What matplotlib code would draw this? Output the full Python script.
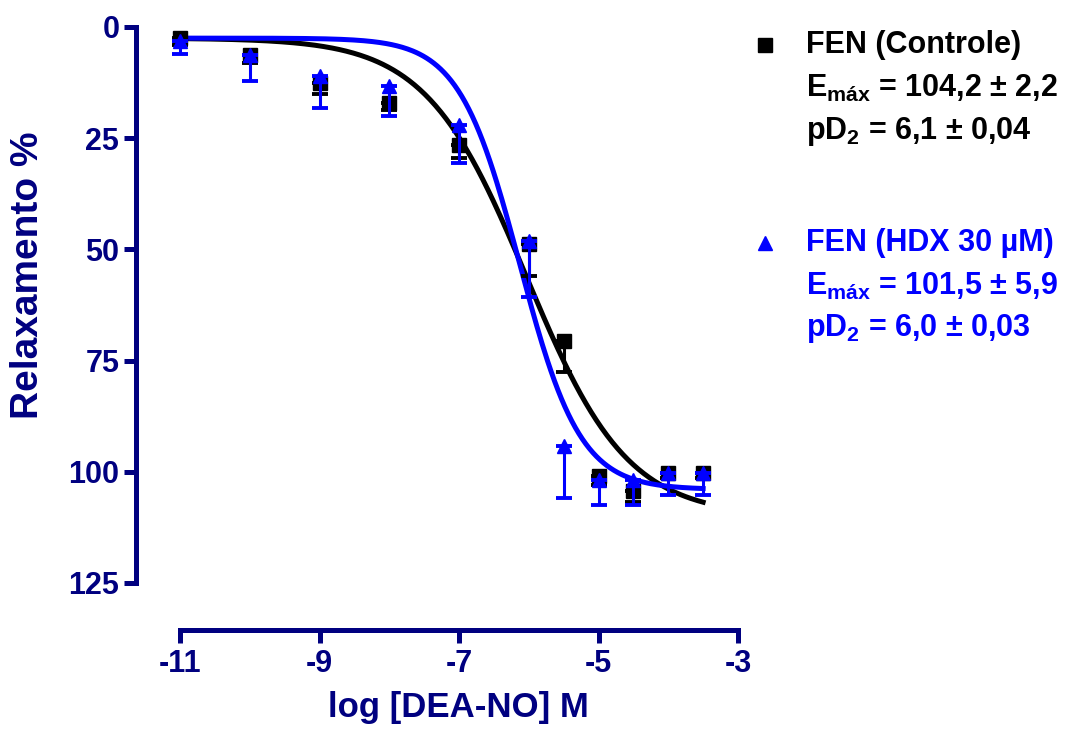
import numpy as np
import matplotlib.pyplot as plt
from matplotlib.lines import Line2D

plt.rcParams['font.family'] = ['Liberation Sans', 'DejaVu Sans']
plt.rcParams['font.weight'] = 'bold'
plt.rcParams['mathtext.default'] = 'regular'
plt.rcParams['axes.unicode_minus'] = False

# dados (media e EPM, % de relaxamento)
log_dea = [-11, -10, -9, -8, -7, -6, -5.5, -5, -4.5, -4, -3.5]
controle_media = [2.5, 6.3, 12.5, 17.0, 26.5, 48.8, 70.5, 101.0, 104.4, 100.3, 100.3]
controle_epm = [1.5, 1.7, 2.6, 1.7, 3.0, 7.2, 7.0, 2.0, 2.3, 1.0, 1.0]
hdx_media = [3.1, 6.4, 11.0, 13.3, 22.0, 48.1, 94.3, 101.8, 101.8, 100.3, 100.3]
hdx_epm = [3.0, 5.7, 7.1, 6.7, 8.6, 12.5, 11.5, 5.6, 5.6, 4.9, 4.9]

# parametros do ajuste sigmoidal: topo, base, logEC50, inclinacao
ajuste_controle = (2.5, 110.0, -6.03, 0.6)
ajuste_hdx = (2.5, 104.0, -6.13, 1.0)

rotulos_controle = ['FEN (Controle)', r'E$_{máx}$ = 104,2 ± 2,2', r'pD$_2$ = 6,1 ± 0,04']
rotulos_hdx = ['FEN (HDX 30 µM)', r'E$_{máx}$ = 101,5 ± 5,9', r'pD$_2$ = 6,0 ± 0,03']

azul_eixo = '#000080'


def sigmoide(x, topo, base, logec50, hill):
    return topo + (base - topo) / (1 + 10 ** ((logec50 - x) * hill))


W, H = 1077, 731
fig = plt.figure(figsize=(W / 100, H / 100), dpi=100)
ax = fig.add_axes([136 / W, 1 - 630 / H, (738 - 136) / W, (630 - 27) / H])

px_x = (738 - 180) / 8
px_y = (583 - 27) / 125
ax.set_xlim(-11 - 44 / px_x, -3)
ax.set_ylim(603 / px_y, 0)

xc = np.linspace(-11, -3.5, 300)
ax.plot(xc, sigmoide(xc, *ajuste_controle), color='black', lw=3.6, zorder=3, clip_on=False)
ax.plot(xc, sigmoide(xc, *ajuste_hdx), color='#0000ff', lw=3.6, zorder=4, clip_on=False)

zeros = np.zeros(len(log_dea))
ax.errorbar(log_dea, controle_media, yerr=[zeros, controle_epm], fmt='s', color='black',
            ms=9.5, elinewidth=2.2, capsize=5.5, capthick=2.8, zorder=5, clip_on=False)
ax.errorbar(log_dea, hdx_media, yerr=[zeros, hdx_epm], fmt='^', color='#0000ff',
            ms=10.5, elinewidth=2.2, capsize=5.5, capthick=2.8, zorder=6, clip_on=False)

for s in ['top', 'right']:
    ax.spines[s].set_visible(False)
for s in ['left', 'bottom']:
    ax.spines[s].set_color(azul_eixo)
    ax.spines[s].set_linewidth(3.6)
ax.spines['left'].set_bounds(0, 125)
ax.spines['bottom'].set_bounds(-11, -3)

ax.set_xticks([-11, -9, -7, -5, -3])
ax.set_yticks([0, 25, 50, 75, 100, 125])
ax.tick_params(colors=azul_eixo, width=3.6, length=9, labelsize=22)
ax.tick_params(axis='x', pad=5)
ax.tick_params(axis='y', pad=3)
for lab in ax.get_xticklabels() + ax.get_yticklabels():
    lab.set_fontweight('bold')

ax.set_xlabel('log [DEA-NO] M', fontsize=25, color=azul_eixo, fontweight='bold')
ax.xaxis.set_label_coords((458 - 136) / (738 - 136), -(708 - 630) / (630 - 27), transform=ax.transAxes)
ax.xaxis.label.set_va('center')
ax.set_ylabel('Relaxamento %', fontsize=28, color=azul_eixo, fontweight='bold')
ax.yaxis.set_label_coords(-(136 - 28) / (738 - 136), (630 - 275) / (630 - 27), transform=ax.transAxes)
ax.yaxis.label.set_va('center')

# legenda com os parametros
for rotulos, y0, cor, marcador in [(rotulos_controle, 45, 'black', 's'),
                                   (rotulos_hdx, 243, '#0000ff', '^')]:
    fig.add_artist(Line2D([765 / W], [1 - y0 / H], marker=marcador, color=cor, ms=9.5,
                          transform=fig.transFigure))
    for i, txt in enumerate(rotulos):
        fig.text(806 / W, 1 - (y0 + i * 43) / H, txt, color=cor, fontsize=22,
                 fontweight='bold', va='center', ha='left')

fig.savefig('out.png', dpi=100)
